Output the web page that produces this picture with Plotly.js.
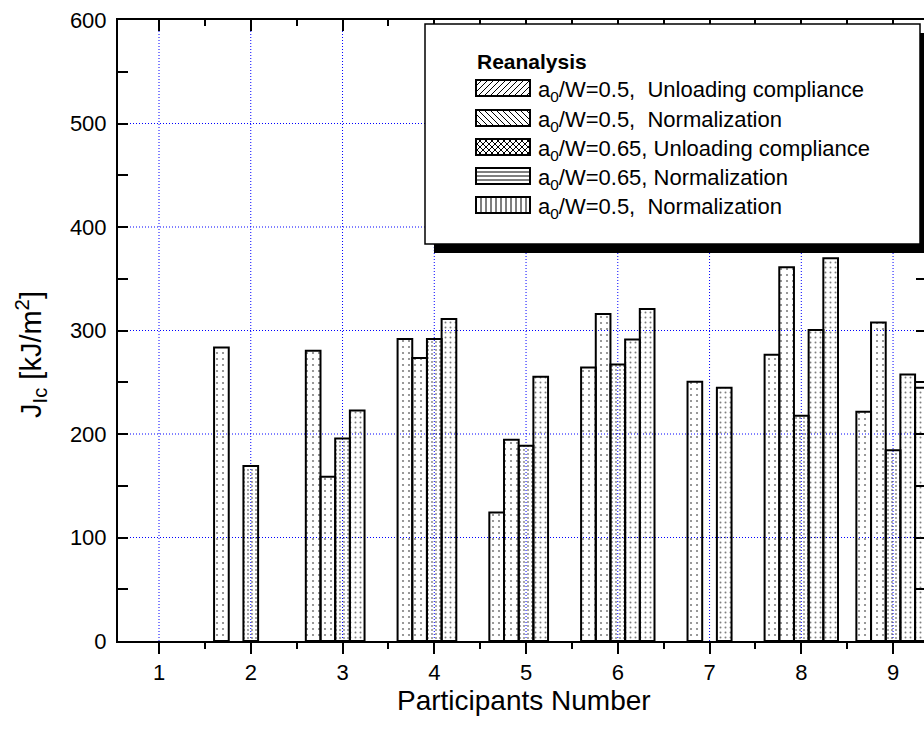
<!DOCTYPE html>
<html>
<head>
<meta charset="utf-8">
<script src="https://cdn.plot.ly/plotly-3.0.1.min.js"></script>
<style>
html, body { margin:0; padding:0; overflow:hidden; background:#fff; }
#chart { width:930px; height:740px; }
</style>
</head>
<body>
<div id="chart"></div>
<script>
// ---- data ----
const participants = [1, 2, 3, 4, 5, 6, 7, 8, 9];
const tickLabels = ['1', '2', '3', '4', '5', '6', '7', '8', '9'];
const yTickVals = [0, 100, 200, 300, 400, 500, 600];
const seriesNames = [
  'a<sub>0</sub>/W=0.5,\u00a0 Unloading compliance',
  'a<sub>0</sub>/W=0.5,\u00a0 Normalization',
  'a<sub>0</sub>/W=0.65, Unloading compliance',
  'a<sub>0</sub>/W=0.65, Normalization',
  'a<sub>0</sub>/W=0.5,\u00a0 Normalization'
];
const uc05   = [null, 283.6, 280.5, 291.8, 124.1, 264.3, null, 276.6, 221.5];
const norm05 = [null, null, 158.6, 273.4, 194.4, 316.0, 250.5, 361.0, 307.8];
const uc065  = [null, 169.2, 195.7, 291.8, 188.6, 267.2, null, 217.6, 184.4];
const norm065 = [null, null, 222.7, 311.0, 255.3, 291.4, 244.7, 300.5, 257.5];
const norm05b = [null, null, null, null, null, 320.8, null, 369.7, 244.7];
const legendTitle = 'Reanalysis';
const xTitle = 'Participants Number';
const yTitle = 'J<sub>Ic</sub> [kJ/m<sup>2</sup>]';

// ---- geometry (pixels) ----
const L = 118, R = 926, T = 20, B = 641;
const px = v => (v - L) / (R - L);
const py = v => (B - v) / (B - T);
const FONT = 'Liberation Sans, Arial, sans-serif';

const patterns = [
  {size: 6, solidity: 0.10},
  {size: 6, solidity: 0.10},
  {size: 4, solidity: 0.16},
  {size: 5, solidity: 0.12},
  {size: 5, solidity: 0.12}
];
const series = [uc05, norm05, uc065, norm065, norm05b];

const traces = series.map((ys, i) => ({
  type: 'bar',
  x: participants,
  y: ys,
  name: seriesNames[i],
  showlegend: false,
  marker: {
    color: 'rgba(0,0,0,0)',
    line: {color: '#000', width: 2},
    pattern: {shape: '.', fgcolor: '#000', fillmode: 'overlay',
              size: patterns[i].size, solidity: patterns[i].solidity}
  },
  hoverinfo: 'x+y'
}));
// empty trace to carry the top mirror axis
traces.push({type: 'scatter', x: [], y: [], xaxis: 'x2', yaxis: 'y', showlegend: false});

const shapes = [];
// ---- dotted blue grid (below bars) ----
const gridLine = {color: '#0000ff', width: 1, dash: '1px,2px'};
participants.forEach(v => shapes.push({type: 'line', layer: 'below', xref: 'x', yref: 'paper',
  x0: v, x1: v, y0: 0, y1: 1, line: gridLine}));
yTickVals.slice(1, -1).forEach(v => shapes.push({type: 'line', layer: 'below', xref: 'paper', yref: 'y',
  x0: 0, x1: 1, y0: v, y1: v, line: gridLine}));

// ---- custom legend drawn with shapes ----
const boxL = 425, boxR = 920, boxT = 24, boxB = 244, sh = 9;
shapes.push({type: 'rect', xref: 'paper', yref: 'paper',
  x0: px(boxL + sh), x1: px(boxR + sh), y0: py(boxT + sh), y1: py(boxB + sh),
  fillcolor: '#000', line: {width: 0}});
shapes.push({type: 'rect', xref: 'paper', yref: 'paper',
  x0: px(boxL), x1: px(boxR), y0: py(boxT), y1: py(boxB),
  fillcolor: '#fff', line: {color: '#000', width: 1.5}});

const rowY = [88, 118, 147, 176, 205];
const swL = 476, swR = 530, swH = 16;
function seg(xa, ya, xb, yb) {
  shapes.push({type: 'line', xref: 'paper', yref: 'paper',
    x0: px(xa), y0: py(ya), x1: px(xb), y1: py(yb), line: {color: '#000', width: 1}});
}
function hatch(kind, x0, y0, x1, y1) {
  const s = 6;
  if (kind === '/' || kind === 'x') {
    for (let c = x0 + y0 + s; c < x1 + y1; c += s) {
      const xa = Math.max(x0, c - y1), xb = Math.min(x1, c - y0);
      if (xb > xa) seg(xa, c - xa, xb, c - xb);
    }
  }
  if (kind === '\\' || kind === 'x') {
    for (let c = x0 - y1 + s; c < x1 - y0; c += s) {
      const xa = Math.max(x0, c + y0), xb = Math.min(x1, c + y1);
      if (xb > xa) seg(xa, xa - c, xb, xb - c);
    }
  }
  if (kind === '-') {
    for (let y = y0 + 4; y < y1 - 1; y += 4) seg(x0, y, x1, y);
  }
  if (kind === '|') {
    for (let x = x0 + 5; x < x1 - 1; x += 5) seg(x, y0, x, y1);
  }
}
const kinds = ['/', '\\', 'x', '-', '|'];
const annotations = [];
rowY.forEach((c, i) => {
  const y0 = c - swH / 2, y1 = c + swH / 2;
  hatch(kinds[i], swL, y0, swR, y1);
  shapes.push({type: 'rect', xref: 'paper', yref: 'paper',
    x0: px(swL), x1: px(swR), y0: py(y0), y1: py(y1),
    fillcolor: 'rgba(0,0,0,0)', line: {color: '#000', width: 2}});
  annotations.push({xref: 'paper', yref: 'paper', x: px(536), y: py(c + 3),
    xanchor: 'left', yanchor: 'middle', showarrow: false,
    text: seriesNames[i], font: {family: FONT, size: 22, color: '#000'}});
});
annotations.push({xref: 'paper', yref: 'paper', x: px(475), y: py(62),
  xanchor: 'left', yanchor: 'middle', showarrow: false,
  text: '<b>' + legendTitle + '</b>', font: {family: FONT, size: 21, color: '#000'}});
// axis titles
annotations.push({xref: 'paper', yref: 'paper', x: px(31), y: py(355),
  xanchor: 'center', yanchor: 'middle', showarrow: false, textangle: -90,
  text: yTitle, font: {family: FONT, size: 29, color: '#000'}});
annotations.push({xref: 'paper', yref: 'paper', x: px(524), y: py(700),
  xanchor: 'center', yanchor: 'middle', showarrow: false,
  text: xTitle, font: {family: FONT, size: 28, color: '#000'}});

const xRange = [0.553, 9.359];
const layout = {
  width: 930, height: 740,
  margin: {l: L, r: 930 - R, t: T, b: 740 - B, pad: 0},
  paper_bgcolor: '#fff', plot_bgcolor: '#fff',
  font: {family: FONT, size: 22, color: '#000'},
  barmode: 'group', bargap: 0.2, bargroupgap: 0,
  showlegend: false,
  xaxis: {
    range: xRange, tickmode: 'array', tickvals: participants, ticktext: tickLabels,
    ticks: 'outside', ticklen: 11, tickwidth: 2, tickcolor: '#000',
    ticklabelstandoff: 0,
    minor: {tickmode: 'linear', tick0: 0.5, dtick: 1, ticks: 'outside', ticklen: 6, tickwidth: 2, tickcolor: '#000', showgrid: false},
    showline: true, linecolor: '#000', linewidth: 2, mirror: false,
    showgrid: false, zeroline: false,
    tickfont: {family: FONT, size: 22, color: '#000'}
  },
  xaxis2: {
    overlaying: 'x', matches: 'x', side: 'top', anchor: 'y', range: xRange,
    tickmode: 'array', tickvals: participants,
    ticks: 'inside', ticklen: 11, tickwidth: 2, tickcolor: '#000',
    minor: {tickmode: 'linear', tick0: 0.5, dtick: 1, ticks: 'inside', ticklen: 6, tickwidth: 2, tickcolor: '#000', showgrid: false},
    showticklabels: false, showline: true, linecolor: '#000', linewidth: 2,
    showgrid: false, zeroline: false
  },
  yaxis: {
    range: [0, 600], tickmode: 'array', tickvals: yTickVals,
    ticks: 'inside', ticklen: 10, tickwidth: 2, tickcolor: '#000',
    ticklabelstandoff: 5,
    minor: {tickmode: 'linear', tick0: 0, dtick: 50, ticks: 'inside', ticklen: 6, tickwidth: 2, tickcolor: '#000', showgrid: false},
    showline: true, linecolor: '#000', linewidth: 2, mirror: 'allticks',
    showgrid: false, zeroline: false,
    tickfont: {family: FONT, size: 22, color: '#000'}
  },
  shapes: shapes,
  annotations: annotations
};

Plotly.newPlot('chart', traces, layout, {displayModeBar: false, staticPlot: true});
</script>
</body>
</html>
